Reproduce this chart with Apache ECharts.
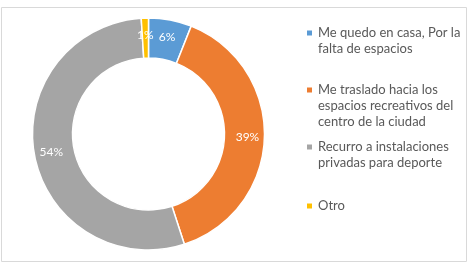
<!DOCTYPE html>
<html>
<head>
<meta charset="utf-8">
<script src="https://cdn.jsdelivr.net/npm/echarts@6/dist/echarts.min.js"></script>
<style>
  html, body { margin: 0; padding: 0; background: #fff; }
  #chart { width: 468px; height: 266px; }
</style>
</head>
<body>
<div id="chart"></div>
<script>
// categories and values (percent)
var categories = [
  'Me quedo en casa, Por la falta de espacios',
  'Me traslado hacia los espacios recreativos del centro de la ciudad',
  'Recurro a instalaciones privadas para deporte',
  'Otro'
];
var legendLines = [
  ['Me quedo en casa, Por la', 'falta de espacios'],
  ['Me traslado hacia los', 'espacios recreativos del', 'centro de la ciudad'],
  ['Recurro a instalaciones', 'privadas para deporte'],
  ['Otro']
];
var values = [6, 39, 54, 1];
var colors = ['#5B9BD5', '#ED7D31', '#A5A5A5', '#FFC000'];

var legendTops = [24, 81, 138, 197];
var lineH = 16;

var chart = echarts.init(document.getElementById('chart'));

// square marker aligned to the first text line
function markerPath(h) {
  return 'path://M0,0L0.01,0L0,0.01Z' +
    'M0,4.5L7,4.5L7,11.5L0,11.5Z' +
    'M0,' + h + 'L0.01,' + h + 'L0,' + (h - 0.01) + 'Z';
}

var legends = categories.map(function (name, i) {
  var n = legendLines[i].length;
  return {
    data: [name],
    left: 305,
    top: legendTops[i],
    padding: 0,
    orient: 'vertical',
    itemWidth: 7,
    itemHeight: n * lineH,
    itemGap: 0,
    icon: markerPath(n * lineH),
    selectedMode: false,
    formatter: function () { return legendLines[i].join('\n'); },
    textStyle: {
      color: '#595959',
      fontSize: 13,
      fontFamily: 'Lato',
      lineHeight: lineH
    }
  };
});

chart.setOption({
  animation: false,
  color: colors,
  graphic: [{
    type: 'rect',
    shape: { x: 1.5, y: 7.5, width: 465, height: 254 },
    style: { fill: 'none', stroke: '#d9d9d9', lineWidth: 1 },
    silent: true
  }],
  legend: legends,
  series: [{
    type: 'pie',
    center: [148.5, 134],
    radius: [76, 116],
    startAngle: 90,
    clockwise: true,
    avoidLabelOverlap: false,
    itemStyle: { borderColor: '#fff', borderWidth: 1.5 },
    label: {
      position: 'inside',
      formatter: '{c}%',
      color: '#fff',
      fontSize: 12,
      fontFamily: 'Lato'
    },
    labelLine: { show: false },
    data: categories.map(function (c, i) { return { name: c, value: values[i] }; })
  }]
});
</script>
</body>
</html>
